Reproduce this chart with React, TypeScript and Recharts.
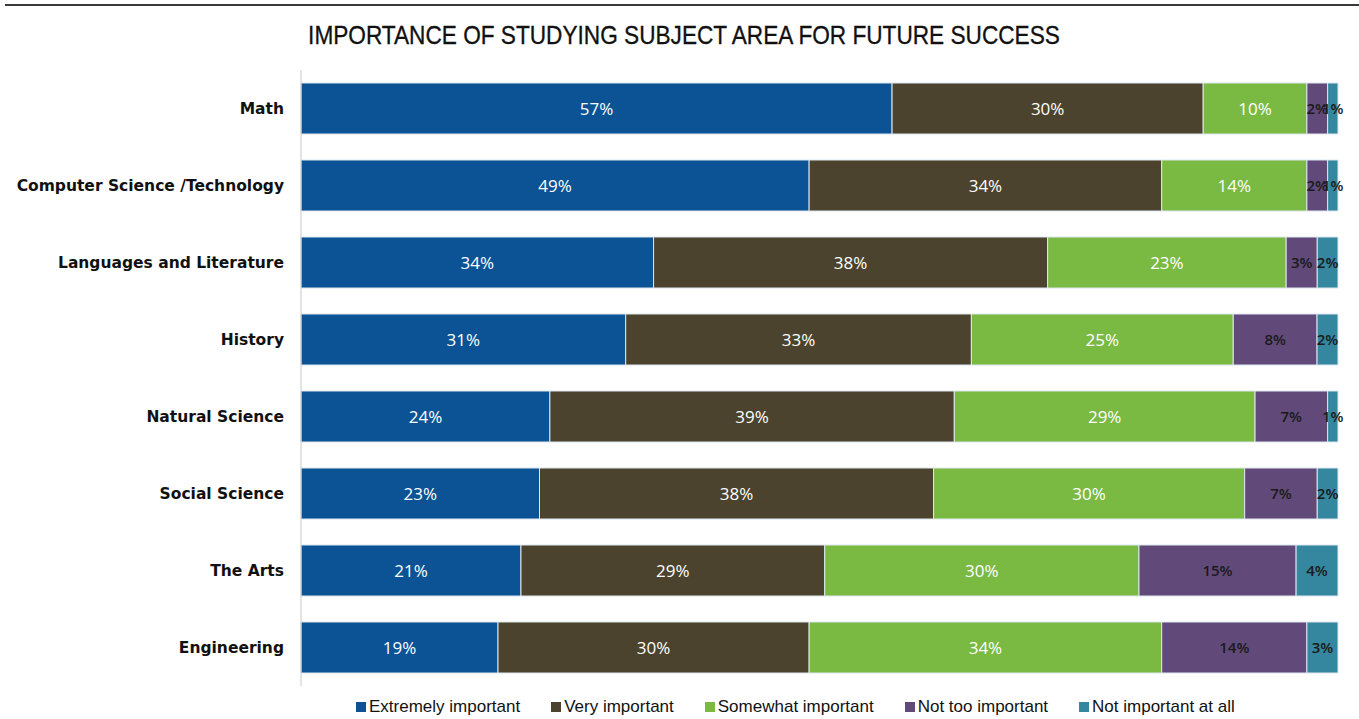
import React from 'react';
import {BarChart, Bar, XAxis, YAxis, LabelList} from 'recharts';

const subjects = [
  'Math',
  'Computer Science /Technology',
  'Languages and Literature',
  'History',
  'Natural Science ',
  'Social Science ',
  'The Arts ',
  'Engineering',
];
const extremely = [57, 49, 34, 31, 24, 23, 21, 19];
const very = [30, 34, 38, 33, 39, 38, 29, 30];
const somewhat = [10, 14, 23, 25, 29, 30, 30, 34];
const notToo = [2, 2, 3, 8, 7, 7, 15, 14];
const notAtAll = [1, 1, 2, 2, 1, 2, 4, 3];

const series = [
  {key: 'extremely', name: 'Extremely important', color: '#0b5394', text: '#ffffff'},
  {key: 'very', name: 'Very important', color: '#4b432d', text: '#ffffff'},
  {key: 'somewhat', name: 'Somewhat important', color: '#7aba43', text: '#ffffff'},
  {key: 'notToo', name: 'Not too important', color: '#614a7a', text: '#1a1a1a'},
  {key: 'notAtAll', name: 'Not important at all', color: '#34879f', text: '#1a1a1a'},
];

const data = subjects.map((s, i) => ({
  subject: s,
  extremely: extremely[i],
  very: very[i],
  somewhat: somewhat[i],
  notToo: notToo[i],
  notAtAll: notAtAll[i],
}));

export default function App() {
  return (
    <div style={{position: 'absolute', left: 0, top: 0, width: 1359, height: 719, background: '#fff', fontFamily: '"Liberation Sans", Arial, sans-serif'}}>
      <div style={{position: 'absolute', left: 5, right: 0, top: 4, height: 2, background: '#3a3a3a'}} />
      <div style={{
        position: 'absolute', left: 0, width: 1368, top: 21, textAlign: 'center',
        fontSize: 25, color: '#111', transform: 'scaleX(0.905)', transformOrigin: '684px 0',
        WebkitTextStroke: '0.3px #111'
      }}>
        IMPORTANCE OF STUDYING SUBJECT AREA FOR FUTURE SUCCESS
      </div>
      <BarChart
        width={1359}
        height={719}
        data={data}
        layout="vertical"
        stackOffset="expand"
        barCategoryGap={13}
        margin={{top: 70, right: 21, left: 0, bottom: 33}}
      >
        <XAxis type="number" hide />
        <YAxis
          type="category"
          dataKey="subject"
          width={301}
          tickLine={false}
          tickMargin={11}
          axisLine={{stroke: '#c8c8c8'}}
          tick={{fill: '#111', fontSize: 15.5, fontWeight: 'bold', fontFamily: '"DejaVu Sans", sans-serif'}}
        />
        {series.map(s => (
          <Bar key={s.key} dataKey={s.key} name={s.name} stackId="a" fill={s.color} stroke="#dde6ee" strokeWidth={1} isAnimationActive={false}>
            <LabelList
              dataKey={s.key}
              position="center"
              formatter={(v: any) => `${v}%`}
              style={{fill: s.text, fontSize: s.text === '#ffffff' ? 17 : 15, fontFamily: '"Open Sans", sans-serif', fontWeight: s.text === '#ffffff' ? 400 : 600}}
            />
          </Bar>
        ))}
      </BarChart>
      <div style={{position: 'absolute', left: 356, top: 697, display: 'flex', fontSize: 17, color: '#111', whiteSpace: 'nowrap'}}>
        {series.map(s => (
          <div key={s.key} style={{display: 'flex', alignItems: 'center', marginRight: 31}}>
            <span style={{display: 'inline-block', width: 10, height: 10, background: s.color, marginRight: 3}} />
            <span>{s.name}</span>
          </div>
        ))}
      </div>
    </div>
  );
}
